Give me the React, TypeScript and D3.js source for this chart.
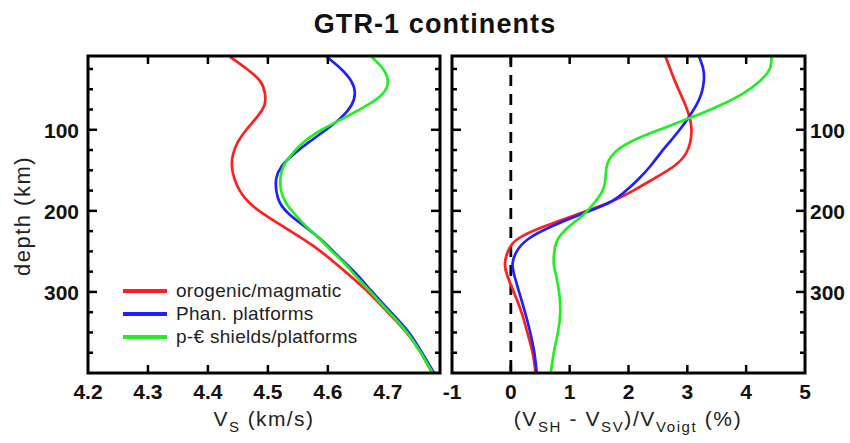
import React, { useEffect, useRef } from "react";
import * as d3 from "d3";

// depth samples (km) shared by all profiles
const depths = [10, 25, 40, 55, 70, 85, 100, 115, 130, 145, 160, 175, 190, 205, 220, 235, 250, 265, 280, 300, 325, 350, 375, 400];

// isotropic Vs (km/s)
const vsOrogenic = [4.437, 4.465, 4.487, 4.495, 4.494, 4.481, 4.464, 4.45, 4.442, 4.44, 4.444, 4.453, 4.469, 4.495, 4.527, 4.559, 4.588, 4.613, 4.637, 4.667, 4.7, 4.731, 4.755, 4.774];
const vsPhanerozoic = [4.598, 4.622, 4.639, 4.645, 4.639, 4.622, 4.597, 4.569, 4.543, 4.523, 4.514, 4.514, 4.52, 4.537, 4.563, 4.588, 4.609, 4.63, 4.65, 4.674, 4.705, 4.735, 4.757, 4.777];
const vsPrecambrian = [4.673, 4.692, 4.7, 4.692, 4.665, 4.628, 4.59, 4.56, 4.54, 4.526, 4.521, 4.522, 4.53, 4.546, 4.565, 4.587, 4.607, 4.628, 4.646, 4.671, 4.702, 4.732, 4.755, 4.775];

// radial anisotropy (%)
const anisoOrogenic = [2.63, 2.71, 2.79, 2.88, 2.97, 3.04, 3.07, 3.05, 2.97, 2.77, 2.44, 2.08, 1.66, 1.1, 0.54, 0.11, -0.05, -0.1, -0.06, 0.05, 0.18, 0.28, 0.37, 0.42];
const anisoPhanerozoic = [3.2, 3.27, 3.28, 3.24, 3.15, 3.02, 2.87, 2.7, 2.53, 2.37, 2.18, 1.96, 1.67, 1.16, 0.67, 0.29, 0.1, 0.03, 0.06, 0.14, 0.24, 0.33, 0.4, 0.44];
const anisoPrecambrian = [4.43, 4.4, 4.23, 3.95, 3.55, 3.06, 2.52, 2.03, 1.74, 1.63, 1.61, 1.56, 1.42, 1.23, 0.98, 0.8, 0.74, 0.73, 0.77, 0.82, 0.84, 0.8, 0.73, 0.68];

const seriesNames = ["orogenic/magmatic", "Phan. platforms", "p-€ shields/platforms"];
const seriesColors = ["#ff1f1f", "#2020ff", "#22ee22"];

const vsTicks = [4.2, 4.3, 4.4, 4.5, 4.6, 4.7];
const anisoTicks = [-1, 0, 1, 2, 3, 4, 5];
const depthTicks = [100, 200, 300];

const FONT = "'Liberation Sans', Arial, Helvetica, sans-serif";

const App = () => {
  const ref = useRef<SVGSVGElement>(null);

  useEffect(() => {
    if (!ref.current) return;
    const svg = d3.select(ref.current);
    svg.selectAll("*").remove();

    const top = 56;
    const bottom = 373;
    const y = d3.scaleLinear().domain([9, 400]).range([top, bottom]);
    const xVs = d3.scaleLinear().domain([4.2, 4.787]).range([88, 440]);
    const xAn = d3.scaleLinear().domain([-1, 5]).range([452, 805]);

    // Title
    svg
      .append("text")
      .attr("x", 435)
      .attr("y", 33)
      .attr("text-anchor", "middle")
      .attr("font-family", FONT)
      .attr("font-weight", "bold")
      .attr("font-size", 27)
      .attr("letter-spacing", 1.1)
      .attr("fill", "#111")
      .text("GTR-1 continents");

    const minorDepths = d3.range(25, 400, 25).filter((d) => d % 100 !== 0);

    const drawPanel = (
      x: d3.ScaleLinear<number, number>,
      xTicks: number[],
      fmt: (v: number) => string,
      series: number[][],
      labelSide: "left" | "right",
      id: string
    ) => {
      const [x0, x1] = x.range();
      const g = svg.append("g");

      g.append("clipPath")
        .attr("id", id)
        .append("rect")
        .attr("x", x0)
        .attr("y", top)
        .attr("width", x1 - x0)
        .attr("height", bottom - top);

      const plot = g.append("g").attr("clip-path", `url(#${id})`);

      if (id === "clip-aniso") {
        plot
          .append("line")
          .attr("x1", x(0))
          .attr("x2", x(0))
          .attr("y1", top)
          .attr("y2", bottom)
          .attr("stroke", "#000")
          .attr("stroke-width", 2.8)
          .attr("stroke-dasharray", "11,8");
      }

      const line = d3
        .line<number>()
        .x((d) => x(d))
        .y((_, i) => y(depths[i]))
        .curve(d3.curveNatural);

      series.forEach((vals, i) => {
        plot
          .append("path")
          .attr("d", line(vals))
          .attr("fill", "none")
          .attr("stroke", seriesColors[i])
          .attr("stroke-width", 2.7);
      });

      // frame
      g.append("rect")
        .attr("x", x0)
        .attr("y", top)
        .attr("width", x1 - x0)
        .attr("height", bottom - top)
        .attr("fill", "none")
        .attr("stroke", "#000")
        .attr("stroke-width", 3);

      // x ticks (top and bottom, inward)
      xTicks.slice(1, -1).forEach((t) => {
        if (x(t) >= x1 - 2) return;
        g.append("line")
          .attr("x1", x(t)).attr("x2", x(t))
          .attr("y1", top).attr("y2", top + 8)
          .attr("stroke", "#000").attr("stroke-width", 2.5);
        g.append("line")
          .attr("x1", x(t)).attr("x2", x(t))
          .attr("y1", bottom).attr("y2", bottom - 8)
          .attr("stroke", "#000").attr("stroke-width", 2.5);
      });

      xTicks.forEach((t) => {
        g.append("text")
          .attr("x", x(t))
          .attr("y", 399)
          .attr("text-anchor", "middle")
          .attr("font-family", FONT)
          .attr("font-weight", "bold")
          .attr("font-size", 21)
          .attr("fill", "#111")
          .text(fmt(t));
      });

      // y ticks on both sides, inward
      [x0, x1].forEach((xe, side) => {
        const dir = side === 0 ? 1 : -1;
        depthTicks.forEach((d) => {
          g.append("line")
            .attr("x1", xe).attr("x2", xe + dir * 9)
            .attr("y1", y(d)).attr("y2", y(d))
            .attr("stroke", "#000").attr("stroke-width", 2.5);
        });
        minorDepths.forEach((d) => {
          g.append("line")
            .attr("x1", xe).attr("x2", xe + dir * 5)
            .attr("y1", y(d)).attr("y2", y(d))
            .attr("stroke", "#000").attr("stroke-width", 2.5);
        });
      });

      depthTicks.forEach((d) => {
        g.append("text")
          .attr("x", labelSide === "left" ? x0 - 9 : x1 + 5)
          .attr("y", y(d) + 8)
          .attr("text-anchor", labelSide === "left" ? "end" : "start")
          .attr("font-family", FONT)
          .attr("font-weight", "bold")
          .attr("font-size", 21)
          .attr("fill", "#111")
          .text(d);
      });

      return g;
    };

    drawPanel(xVs, vsTicks, d3.format(".1f"), [vsOrogenic, vsPhanerozoic, vsPrecambrian], "left", "clip-vs");
    drawPanel(xAn, anisoTicks, (v) => String(v), [anisoOrogenic, anisoPhanerozoic, anisoPrecambrian], "right", "clip-aniso");

    // y label
    svg
      .append("text")
      .attr("transform", "translate(30, 216) rotate(-90)")
      .attr("text-anchor", "middle")
      .attr("font-family", FONT)
      .attr("font-size", 22)
      .attr("letter-spacing", 1.5)
      .attr("fill", "#222")
      .text("depth (km)");

    // x labels with subscripts
    const xLabel = (cx: number, parts: [string, boolean][], spacing: number) => {
      const t = svg
        .append("text")
        .attr("x", cx)
        .attr("y", 426)
        .attr("text-anchor", "middle")
        .attr("font-family", FONT)
        .attr("font-size", 21)
        .attr("letter-spacing", spacing)
        .attr("fill", "#222");
      let prevSub = false;
      parts.forEach(([s, sub]) => {
        const span = t.append("tspan").text(s);
        if (sub) span.attr("font-size", 15);
        if (sub !== prevSub) span.attr("dy", sub ? 6 : -6);
        prevSub = sub;
      });
    };

    xLabel(264, [["V", false], ["S", true], [" (km/s)", false]], 1.4);
    xLabel(628, [
      ["(V", false], ["SH", true], [" - V", false], ["SV", true],
      [")/V", false], ["Voigt", true], [" (%)", false],
    ], 1.6);

    // legend
    const legend = svg.append("g");
    seriesNames.forEach((name, i) => {
      const ly = 291 + i * 23;
      legend
        .append("line")
        .attr("x1", 123).attr("x2", 167)
        .attr("y1", ly).attr("y2", ly)
        .attr("stroke", seriesColors[i])
        .attr("stroke-width", 4);
      legend
        .append("text")
        .attr("x", 176)
        .attr("y", ly + 6)
        .attr("font-family", FONT)
        .attr("font-size", 19)
        .attr("letter-spacing", 0.3)
        .attr("fill", "#222")
        .text(name);
    });
  }, []);

  return (
    <svg
      ref={ref}
      width={850}
      height={443}
      style={{ position: "absolute", left: 0, top: 0, background: "#fff" }}
    />
  );
};

export default App;
